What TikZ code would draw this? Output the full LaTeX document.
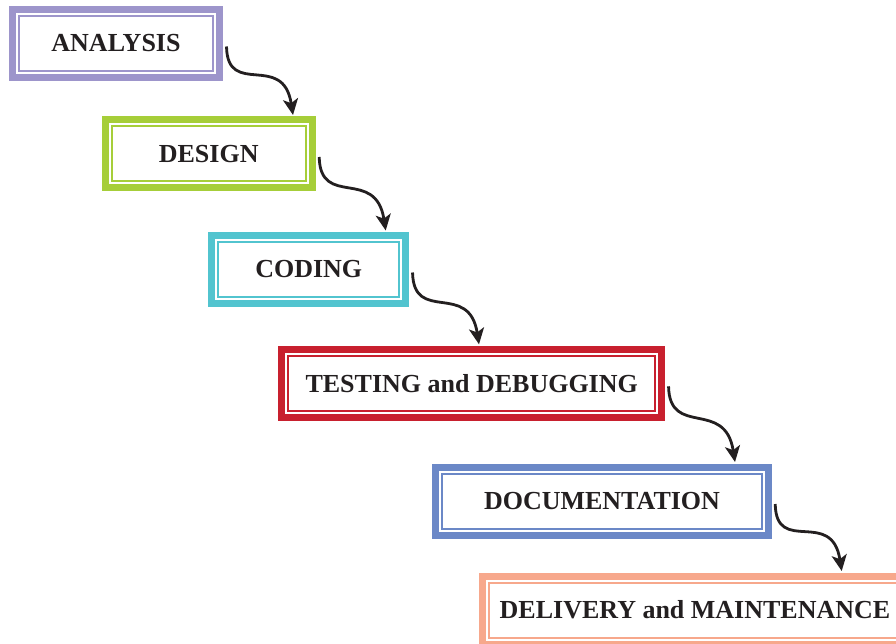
\documentclass[tikz,border=0pt]{standalone}
\usepackage{fontspec}
\setmainfont{Liberation Serif}
\usetikzlibrary{arrows.meta}

\definecolor{ink}{RGB}{35,31,32}
\definecolor{anaC}{RGB}{157,149,203}
\definecolor{desC}{RGB}{166,206,57}
\definecolor{codC}{RGB}{82,196,207}
\definecolor{tstC}{RGB}{200,32,46}
\definecolor{docC}{RGB}{107,136,199}
\definecolor{delC}{RGB}{247,168,140}

\tikzset{
  stage/.style={draw=#1, line width=7pt, minimum height=68pt, inner sep=0pt,
    text=ink, font=\fontsize{26}{30}\selectfont\bfseries,
    path picture={\draw[#1, line width=2pt]
      ([shift={(6.5pt,-6.5pt)}]path picture bounding box.north west) rectangle
      ([shift={(-6.5pt,6.5pt)}]path picture bounding box.south east);}},
  flow/.style={draw=ink, line width=2.8pt, -{Stealth[length=16pt,width=15pt,inset=4pt]}}
}

\begin{document}
\begin{tikzpicture}[x=1pt, y=-1pt]
    \useasboundingbox (0,0) rectangle (896,644);
    \clip (0,0) rectangle (896,644);
    % stages, top left to bottom right
    \node[stage=anaC, minimum width=207pt] (ana) at (116,43.5) {ANALYSIS};
    \node[stage=desC, minimum width=207pt] (des) at (208.7,154) {DESIGN};
    \node[stage=codC, minimum width=193.7pt] (cod) at (308.7,269.5) {CODING};
    \node[stage=tstC, minimum width=379.7pt] (tst) at (471.7,383.3) {TESTING and DEBUGGING};
    \node[stage=docC, minimum width=332.4pt] (doc) at (602,501) {DOCUMENTATION};
    \node[stage=delC, minimum width=425pt] (del) at (695,610) {DELIVERY and MAINTENANCE};
    % curved arrows from one stage to the next
    \draw[flow] ([xshift=3.5pt,yshift=-3pt]ana.east) .. controls +(1,52) and +(-10,-64) .. ([xshift=84.3pt,yshift=1.5pt]des.north);
    \draw[flow] ([xshift=3.5pt,yshift=-3pt]des.east) .. controls +(1,52) and +(-10,-64) .. ([xshift=77pt,yshift=1.5pt]cod.north);
    \draw[flow] ([xshift=3.5pt,yshift=-3pt]cod.east) .. controls +(1,52) and +(-10,-64) .. ([xshift=7.3pt,yshift=1.5pt]tst.north);
    \draw[flow] ([xshift=3.5pt,yshift=-3pt]tst.east) .. controls +(1,52) and +(-10,-64) .. ([xshift=133pt,yshift=1.5pt]doc.north);
    \draw[flow] ([xshift=3.5pt,yshift=-3pt]doc.east) .. controls +(1,52) and +(-10,-64) .. ([xshift=146.7pt,yshift=1.5pt]del.north);
\end{tikzpicture}
\end{document}
